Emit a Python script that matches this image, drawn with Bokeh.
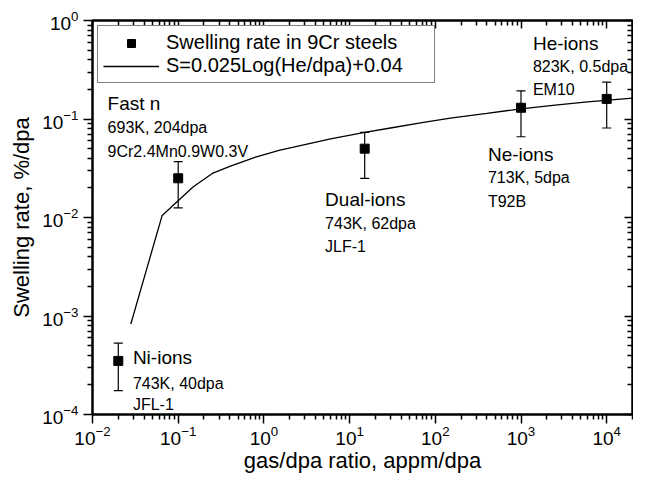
import numpy as np
from bokeh.plotting import figure
from bokeh.models import (ColumnDataSource, Whisker, TeeHead, LogAxis, FixedTicker,
                          Legend, LegendItem, Range1d, CustomJSTickFormatter)
from bokeh.embed import file_html
from bokeh.resources import INLINE
from bokeh.core.properties import value

# ---------------- data ----------------
sample_names = ["Ni-ions", "Fast n", "Dual-ions", "Ne-ions", "He-ions"]
gas_dpa = [0.02, 0.1, 15, 1000, 10000]
swelling_rate = [3.5e-4, 0.025, 0.05, 0.13, 0.16]
err_upper = [5.3e-4, 0.037, 0.073, 0.193, 0.237]
err_lower = [1.75e-4, 0.0125, 0.025, 0.066, 0.081]

conditions = ["743K, 40dpa", "693K, 204dpa", "743K, 62dpa", "713K, 5dpa", "823K, 0.5dpa"]
materials = ["JFL-1", "9Cr2.4Mn0.9W0.3V", "JLF-1", "T92B", "EM10"]

fit_x = [0.028, 0.065, 0.15, 0.25, 0.4, 0.8, 1.5, 3, 6, 15, 30, 70, 150, 400,
         1000, 2500, 6000, 20000]
fit_y = [0.00083, 0.0105, 0.0205, 0.028, 0.033, 0.041, 0.048, 0.055, 0.063,
         0.073, 0.081, 0.092, 0.102, 0.114, 0.127, 0.138, 0.149, 0.163]

x_exponents = [-2, -1, 0, 1, 2, 3, 4]
y_exponents = [-4, -3, -2, -1, 0]

# annotation anchors (data coordinates, left / baseline)
label_x = [0.0296, 0.0150, 5.18, 411, 1377]
name_y = [3.8e-4, 0.1428, 0.0152, 0.0440, 0.581]
cond_y = [2.06e-4, 0.0811, 0.00873, 0.0256, 0.341]
mat_y = [1.25e-4, 0.0471, 0.00513, 0.01452, 0.198]

FONT = "Liberation Sans"

# ---------------- figure ----------------
p = figure(x_axis_type="log", y_axis_type="log",
           x_range=Range1d(0.01, 2e4), y_range=Range1d(1e-4, 1),
           width=633, height=475, output_backend="svg", toolbar_location=None,
           min_border_left=92, min_border_top=20, min_border_bottom=56,
           min_border_right=1)
p.grid.visible = False
p.outline_line_color = "black"
p.outline_line_width = 2
p.background_fill_color = "white"
p.border_fill_color = "white"

x_major = [10.0 ** e for e in x_exponents]
x_minor = [m * 10.0 ** e for e in x_exponents for m in range(2, 10)]
y_major = [10.0 ** e for e in y_exponents]
y_minor = [m * 10.0 ** e for e in y_exponents for m in range(2, 10)]

for ax, tk in ((p.xaxis[0], FixedTicker(ticks=x_major, minor_ticks=x_minor)),
               (p.yaxis[0], FixedTicker(ticks=y_major, minor_ticks=y_minor))):
    ax.ticker = tk
    ax.axis_line_width = 2
    ax.major_tick_line_width = 1.5
    ax.minor_tick_line_width = 1.5
    ax.major_tick_out = 9
    ax.major_tick_in = 0
    ax.minor_tick_out = 5
    ax.minor_tick_in = 0
    ax.major_label_text_font = FONT
    ax.major_label_text_font_size = "19px"
    ax.major_label_text_color = "black"
    ax.axis_label_text_font = FONT
    ax.axis_label_text_font_size = "22px"
    ax.axis_label_text_font_style = "normal"
    ax.axis_label_text_color = "black"

p.xaxis.axis_label = "gas/dpa ratio, appm/dpa"
p.yaxis.axis_label = "Swelling rate, %/dpa"
p.xaxis.major_label_standoff = 2
p.xaxis.axis_label_standoff = 0
p.yaxis.major_label_standoff = 5
p.yaxis.axis_label_standoff = 5

for loc, maj, mnr in (("above", x_major, x_minor), ("right", y_major, y_minor)):
    ax = LogAxis(ticker=FixedTicker(ticks=maj, minor_ticks=mnr),
                 formatter=CustomJSTickFormatter(code="return ''"),
                 major_tick_in=8, major_tick_out=0,
                 minor_tick_in=5, minor_tick_out=0, axis_line_width=2,
                 major_tick_line_width=1.5, minor_tick_line_width=1.5,
                 major_label_text_font_size="2px", major_label_standoff=0)
    p.add_layout(ax, loc)

src = ColumnDataSource(dict(x=gas_dpa, y=swelling_rate, upper=err_upper, lower=err_lower))
fit_src = ColumnDataSource(dict(x=fit_x, y=fit_y))

fit_r = p.line("x", "y", source=fit_src, line_color="black", line_width=1.3)

whisk = Whisker(base="x", upper="upper", lower="lower", source=src, dimension="height",
                line_color="black", line_width=1.2,
                upper_head=TeeHead(size=9, line_color="black", line_width=1.2),
                lower_head=TeeHead(size=9, line_color="black", line_width=1.2))
p.add_layout(whisk)

pts = p.scatter("x", "y", source=src, marker="square", size=9,
                fill_color="black", line_color="black")

lab_src = ColumnDataSource(dict(x=label_x, name_y=name_y, cond_y=cond_y, mat_y=mat_y,
                                name=sample_names, cond=conditions, mat=materials))
p.text(x="x", y="name_y", text="name", source=lab_src, text_font=value(FONT),
       text_font_size="19px", text_baseline="alphabetic", text_align="left", text_color="black")
p.text(x="x", y="cond_y", text="cond", source=lab_src, text_font=value(FONT),
       text_font_size="16px", text_baseline="alphabetic", text_align="left", text_color="black")
p.text(x="x", y="mat_y", text="mat", source=lab_src, text_font=value(FONT),
       text_font_size="16px", text_baseline="alphabetic", text_align="left", text_color="black")

legend = Legend(items=[LegendItem(label="Swelling rate in 9Cr steels", renderers=[pts]),
                       LegendItem(label="S=0.025Log(He/dpa)+0.04", renderers=[fit_r])],
                location="top_left", margin=5, padding=5, spacing=0,
                glyph_width=56, glyph_height=20, label_height=20, label_width=263,
                label_standoff=7, label_text_font=FONT, label_text_font_size="20px",
                label_text_color="black", border_line_color="black", border_line_width=1.2,
                background_fill_color="white", background_fill_alpha=1.0)
p.add_layout(legend, "center")

open("out.html", "w").write(file_html(p, INLINE))
